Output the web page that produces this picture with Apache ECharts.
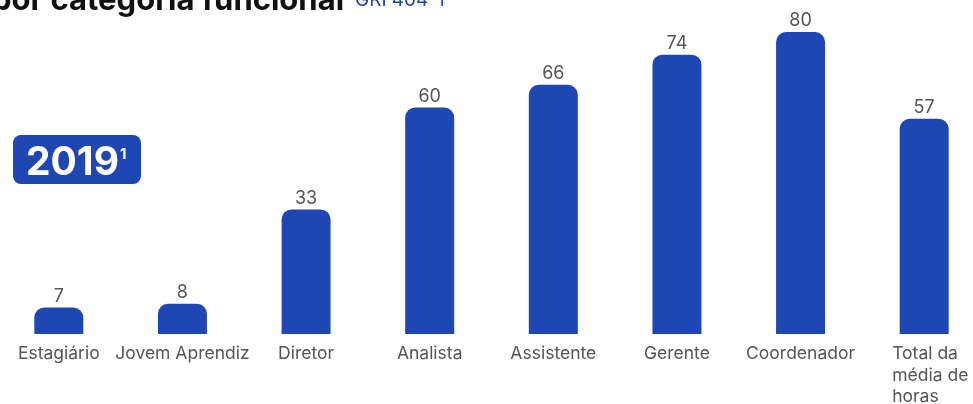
<!DOCTYPE html>
<html>
<head>
<meta charset="utf-8">
<script src="https://cdn.jsdelivr.net/npm/echarts@6/dist/echarts.min.js"></script>
<style>
  html, body { margin: 0; padding: 0; background: #fff; overflow: hidden; }
  #wrap { position: relative; width: 973px; height: 404px; overflow: hidden; }
  /* canvas slightly wider than the page so the eight bands span the full width */
  #chart { position: absolute; left: -3px; top: 0; width: 989px; height: 404px; }
</style>
</head>
<body>
<div id="wrap"><div id="chart"></div></div>
<script>
// Average training hours per functional category
const categories = ['Estagiário', 'Jovem Aprendiz', 'Diretor', 'Analista', 'Assistente', 'Gerente', 'Coordenador', 'Total da\nmédia de\nhoras'];
const hours = [7, 8, 33, 60, 66, 74, 80, 57];
const titleText = 'por categoria funcional';
const griText = 'GRI 404-1';
const yearText = '2019';
const noteMark = '1';

const BLUE = '#1f47b3';
const GREY = '#555555';
const FONT = 'Inter, Roboto, sans-serif';
const OX = 3; // horizontal offset of the canvas

const chart = echarts.init(document.getElementById('chart'));

chart.setOption({
  animation: false,
  grid: { left: 0, right: 0, top: 32, bottom: 70, containLabel: false, outerBoundsMode: 'none' },
  xAxis: {
    type: 'category',
    data: categories,
    axisLine: { show: false },
    axisTick: { show: false },
    axisLabel: {
      interval: 0,
      margin: 9,
      color: GREY,
      fontFamily: FONT,
      fontSize: 17.5,
      lineHeight: 21.5,
      formatter: function (v) {
        if (v.indexOf('\n') < 0) return v;
        return v.split('\n').map(s => '{l|' + s + '}').join('\n');
      },
      rich: {
        l: { width: 82, align: 'left', padding: [0, 0, 0, 18], color: GREY, fontFamily: FONT, fontSize: 17.5, lineHeight: 21.5 }
      }
    }
  },
  yAxis: {
    type: 'value',
    min: 0,
    max: 80,
    show: false,
    splitLine: { show: false }
  },
  series: [{
    type: 'bar',
    data: hours,
    barWidth: 49,
    itemStyle: { color: BLUE, borderRadius: [10, 10, 0, 0] },
    label: {
      show: true,
      position: 'top',
      distance: 2,
      color: GREY,
      fontFamily: FONT,
      fontSize: 18
    }
  }],
  graphic: [
    {
      type: 'text',
      left: -8 + OX,
      top: -15,
      style: {
        text: titleText,
        fontFamily: FONT,
        fontWeight: 'bold',
        fontSize: 31,
        fill: '#111'
      }
    },
    {
      type: 'text',
      left: 355 + OX,
      top: -9,
      style: {
        text: griText,
        fontFamily: FONT,
        fontSize: 19,
        fill: BLUE
      }
    },
    {
      type: 'rect',
      shape: { x: 13 + OX, y: 135, width: 128, height: 49, r: 8 },
      style: { fill: BLUE }
    },
    {
      type: 'text',
      left: 26 + OX,
      top: 144,
      style: {
        text: yearText,
        fontFamily: FONT,
        fontWeight: 'bold',
        fontSize: 39,
        fill: '#fff'
      }
    },
    {
      type: 'text',
      left: 120 + OX,
      top: 147,
      style: {
        text: noteMark,
        fontFamily: FONT,
        fontWeight: 'bold',
        fontSize: 15,
        fill: '#fff'
      }
    }
  ]
});
</script>
</body>
</html>
